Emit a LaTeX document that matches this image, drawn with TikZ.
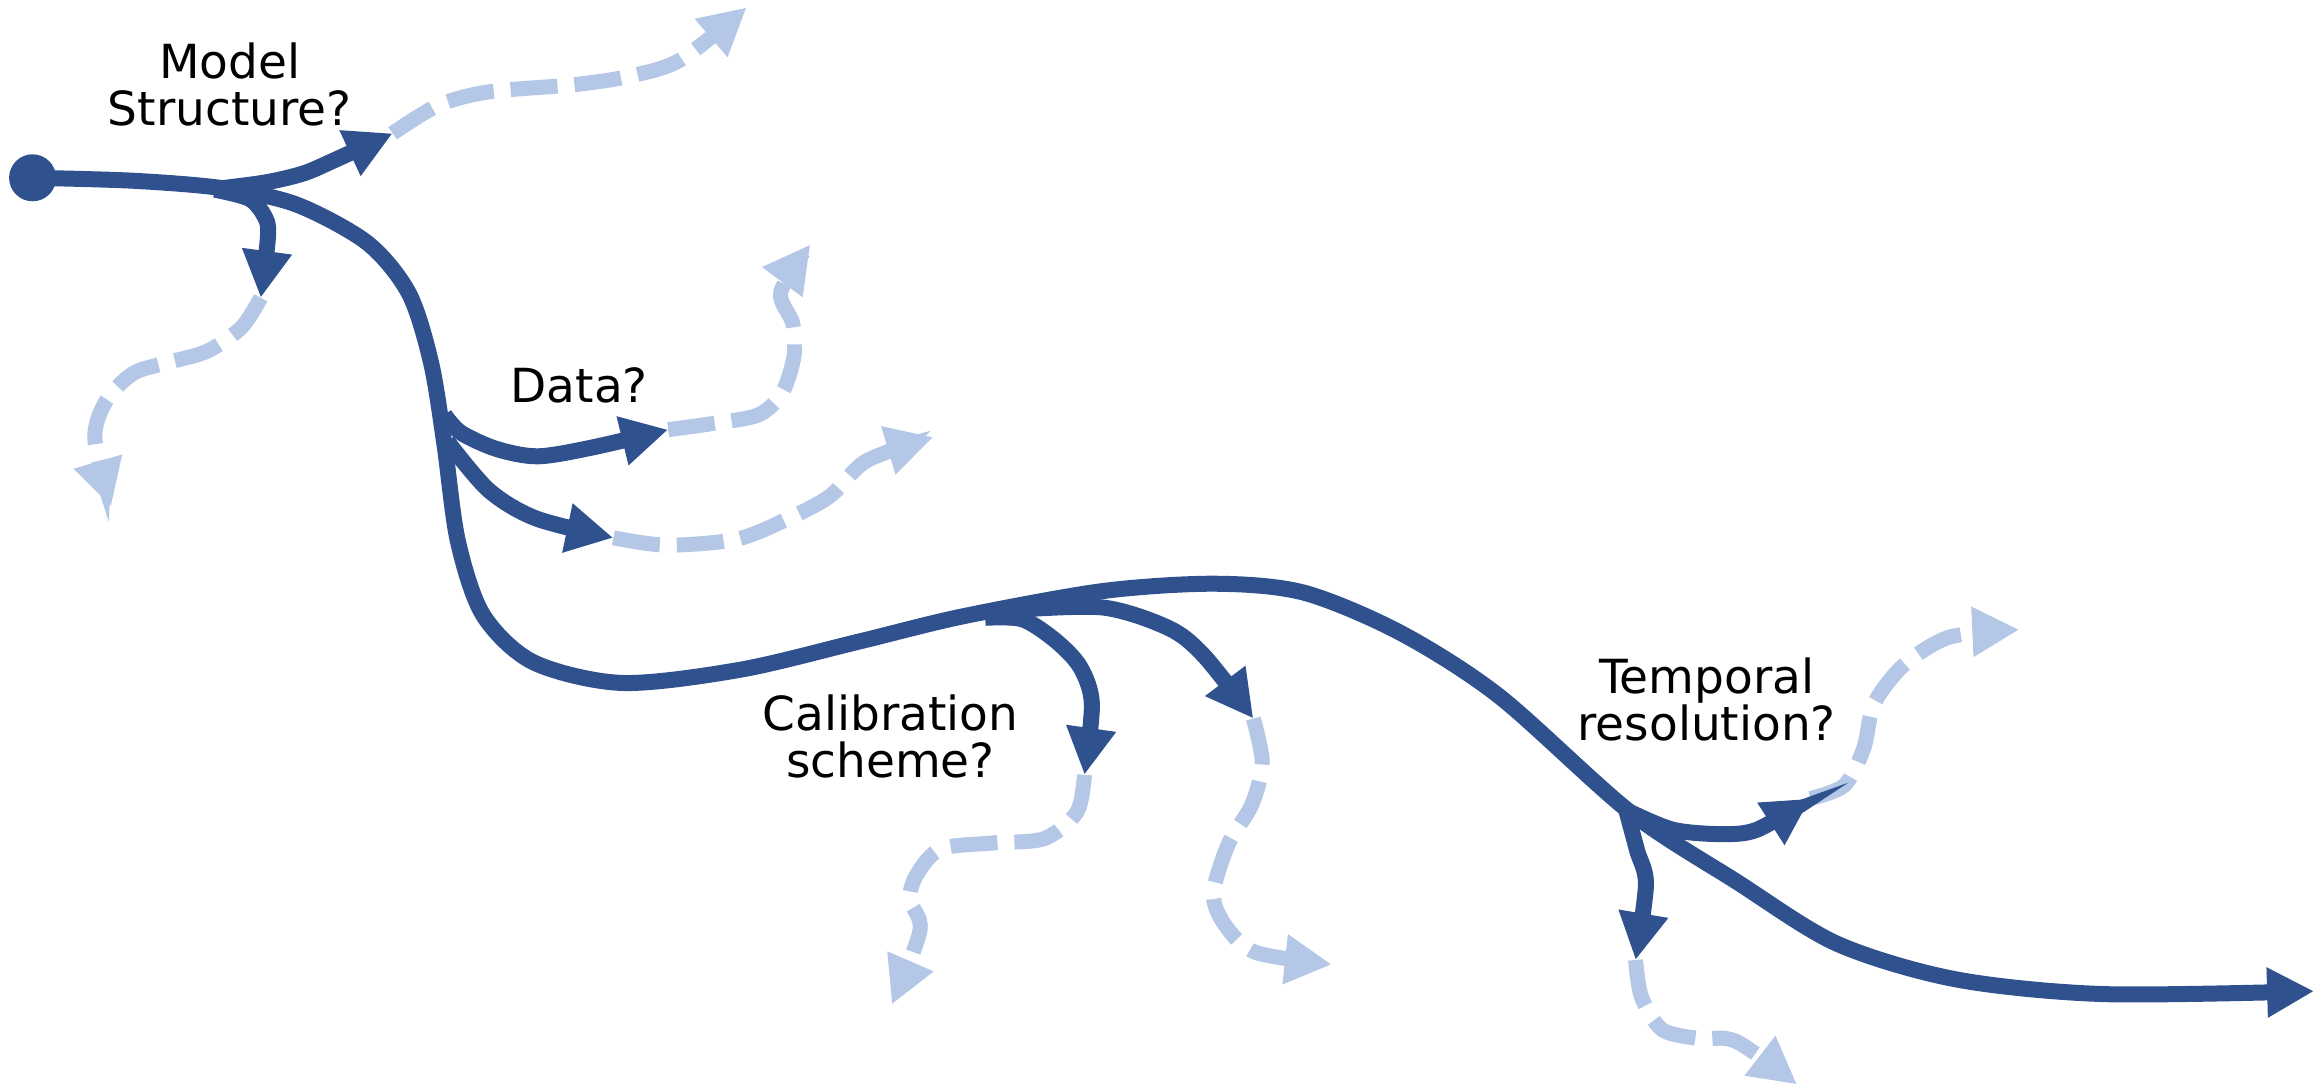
\documentclass[tikz,border=0pt]{standalone}
\usepackage{fontspec}
\setmainfont{DejaVu Sans}
\usetikzlibrary{arrows.meta}
\definecolor{dkblue}{RGB}{47,82,143}
\definecolor{ltblue}{RGB}{180,199,231}
\begin{document}
\begin{tikzpicture}[x=1.4815pt,y=-1.4815pt,
  tipstyle/.style={-{Triangle[length=47pt,width=47pt]}},
  darkline/.style={draw=dkblue, line width=16pt, tipstyle},
  lightline/.style={draw=ltblue, line width=15pt, dash pattern=on 47pt off 17pt, tipstyle},
  lbl/.style={font=\fontsize{47}{47}\selectfont, align=center, text=black, inner sep=0pt}]
\useasboundingbox (0,0) rectangle (1568,733);

% named points
\coordinate (J1) at (150,127);
\coordinate (JD) at (300,280);
\coordinate (J2) at (680,412);
\coordinate (J3) at (1100,548);
\coordinate (tMS) at (265,90);
\coordinate (tSD) at (176,201);
\coordinate (tD1) at (451,290);
\coordinate (tD2) at (414,363);
\coordinate (tCal) at (732,523);
\coordinate (tB2) at (846,485);
\coordinate (tTR) at (1222,539);
\coordinate (tTD) at (1104,648);
\coordinate (tEnd) at (1562,669);
\coordinate (lMS) at (504,5);
\coordinate (lSD) at (75,342);
\coordinate (lD1) at (547,165);
\coordinate (lD2) at (630,295);
\coordinate (lCal) at (602,678);
\coordinate (lB2) at (899,651);
\coordinate (lTR) at (1363,425);
\coordinate (lTD) at (1213,732);

% light dashed continuations
\draw[lightline] plot[smooth] coordinates {(tMS) (296,71) (330,62) (389,57) (427,51) (460,40) (lMS)};
\draw[lightline] plot[smooth] coordinates {(tSD) (163,221) (140,237) (112,245) (90,252) (72,270) (64,296) (lSD)};
\draw[lightline] plot[smooth] coordinates {(tD1) (480,286) (512,280) (528,265) (536,240) (535,218) (527,197) (lD1)};
\draw[lightline] plot[smooth] coordinates {(tD2) (450,368) (497,364) (530,351) (560,335) (585,311) (lD2)};
\draw[lightline] plot[smooth] coordinates {(tCal) (727,548) (705,566) (670,569) (635,573) (619,590) (614,607) (621,628) (lCal)};
\draw[lightline] plot[smooth] coordinates {(tB2) (852,515) (845,543) (829,570) (819,604) (828,626) (848,643) (lB2)};
\draw[lightline] plot[smooth] coordinates {(tTR) (1245,530) (1258,505) (1265,475) (1285,449) (1316,430) (lTR)};
\draw[lightline] plot[smooth] coordinates {(tTD) (1108,673) (1122,695) (1147,701) (1172,703) (lTD)};

% dark trunk and branches
\node[circle, fill=dkblue, minimum size=47pt, inner sep=0pt] (start) at (22,120) {};
\draw[darkline] plot[smooth] coordinates {(start.center) (90,122) (J1) (200,138) (248,164) (276,198) (291,245) (300,300) (309,365) (326,415) (360,447) (420,461) (500,452) (580,433) (650,416) (744,399) (820,394) (880,400) (945,427) (1012,470) (J3) (1172,595) (1240,637) (1320,661) (1420,671) (tEnd)};
\draw[darkline] plot[smooth] coordinates {(J1) (180,123) (205,117) (226,108) (tMS)};
\draw[darkline] plot[smooth] coordinates {(145,128) (168,134) (178,145) (181,158) (tSD)};
\draw[darkline] plot[smooth] coordinates {(JD) (311,292) (335,303) (363,308) (400,302) (tD1)};
\draw[darkline] plot[smooth] coordinates {(302,298) (330,331) (362,350) (tD2)};
\draw[darkline] plot[smooth] coordinates {(665,417) (690,418) (712,432) (729,450) (737,475) (tCal)};
\draw[darkline] plot[smooth] coordinates {(J2) (744,410) (789,424) (813,443) (tB2)};
\draw[darkline] plot[smooth] coordinates {(J3) (1129,560) (1161,563) (1186,560) (tTR)};
\draw[darkline] plot[smooth] coordinates {(1098,548) (1105,574) (1111,597) (tTD)};

% labels
\node[lbl] (ms) at (155,57) {Model\\Structure?};
\node[lbl] (data) at (391,260) {Data?};
\node[lbl] (cal) at (601,497) {Calibration\\scheme?};
\node[lbl] (temp) at (1152,472) {Temporal\\resolution?};
\end{tikzpicture}
\end{document}
